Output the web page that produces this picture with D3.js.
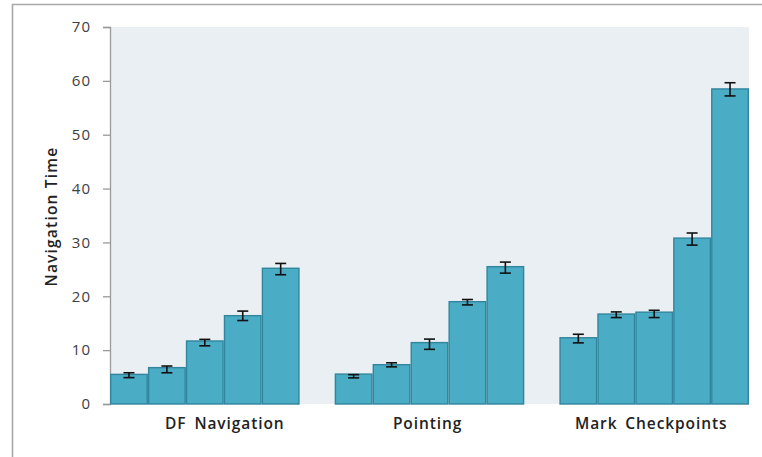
<!DOCTYPE html>
<html>
<head>
<meta charset="utf-8">
<script src="https://cdn.jsdelivr.net/npm/d3@7"></script>
<style>
  html, body { margin: 0; padding: 0; background: #fff; }
  svg { display: block; }
</style>
</head>
<body>
<svg id="chart" width="762" height="457"></svg>
<script>
// ---- data ----
const categories = ["DF Navigation", "Pointing", "Mark Checkpoints"];
const dfNavigation    = [5.5, 6.75, 11.7, 16.4, 25.2];
const pointing        = [5.55, 7.3, 11.4, 19.0, 25.5];
const markCheckpoints = [12.3, 16.7, 17.05, 30.8, 58.5];
const dfNavErrLow     = [4.9, 5.8, 10.8, 15.5, 24.0];
const dfNavErrHigh    = [5.8, 7.05, 12.0, 17.25, 26.1];
const pointErrLow     = [4.85, 6.9, 10.15, 18.4, 24.3];
const pointErrHigh    = [5.45, 7.65, 12.05, 19.4, 26.35];
const markErrLow      = [11.35, 16.05, 16.05, 29.5, 57.2];
const markErrHigh     = [12.95, 17.1, 17.4, 31.75, 59.65];
const yTicks = [0, 10, 20, 30, 40, 50, 60, 70];
const yTitle = "Navigation Time";

const seriesValues = [dfNavigation, pointing, markCheckpoints];
const seriesLow = [dfNavErrLow, pointErrLow, markErrLow];
const seriesHigh = [dfNavErrHigh, pointErrHigh, markErrHigh];

// ---- layout ----
const svg = d3.select("#chart");
const plot = { left: 110, right: 749, top: 27, bottom: 404 };
const font = "'Open Sans', Lato, sans-serif";

// outer frame (left + top lines)
svg.append("path")
  .attr("d", "M12.5,457 L12.5,4.5 L762,4.5")
  .attr("fill", "none").attr("stroke", "#a8a8a8").attr("stroke-width", 1.6);

// plot background
svg.append("rect")
  .attr("x", plot.left).attr("y", plot.top)
  .attr("width", plot.right - plot.left).attr("height", plot.bottom - plot.top)
  .attr("fill", "#e9eff3");

const x = d3.scaleBand().domain(categories)
  .range([plot.left, plot.right]).paddingInner(0.156).paddingOuter(0);
const xSub = d3.scaleBand().domain(d3.range(5))
  .range([0, x.bandwidth()]).padding(0);
const y = d3.scaleLinear().domain([0, 70]).range([plot.bottom, plot.top]);

// y axis
const yAxis = d3.axisLeft(y).tickValues(yTicks).tickSize(7).tickPadding(12);
const ga = svg.append("g").attr("transform", `translate(${plot.left},0)`).call(yAxis);
ga.select(".domain").attr("stroke", "#9a9a9a").attr("stroke-width", 1.3);
ga.selectAll(".tick line").attr("stroke", "#9a9a9a").attr("stroke-width", 1.3);
ga.selectAll(".tick text")
  .attr("font-family", font).attr("font-size", 15).attr("fill", "#404040")
  .attr("letter-spacing", "1px");

// y title
svg.append("text")
  .attr("transform", `translate(57,${(plot.top + plot.bottom) / 2 + 1}) rotate(-90)`)
  .attr("text-anchor", "middle")
  .attr("font-family", font).attr("font-size", 15.5).attr("font-weight", 600)
  .attr("letter-spacing", "1.2px")
  .attr("fill", "#222")
  .text(yTitle);

// bars
const groups = svg.selectAll("g.grp").data(categories).join("g")
  .attr("class", "grp")
  .attr("transform", d => `translate(${x(d)},0)`);

groups.each(function (cat, gi) {
  const g = d3.select(this);
  const vals = seriesValues[gi];
  g.selectAll("rect").data(vals).join("rect")
    .attr("x", (d, i) => xSub(i) + 0.7)
    .attr("y", d => y(d))
    .attr("width", xSub.bandwidth() - 1.4)
    .attr("height", d => y(0) - y(d))
    .attr("fill", "#4bacc6")
    .attr("stroke", "#31859c")
    .attr("stroke-width", 1.4);

  const lo = seriesLow[gi], hi = seriesHigh[gi];
  const eb = g.selectAll("g.eb").data(vals.map((v, i) => i)).join("g").attr("class", "eb");
  const cx = i => xSub(i) + xSub.bandwidth() / 2;
  eb.append("line")
    .attr("x1", cx).attr("x2", cx)
    .attr("y1", i => y(hi[i])).attr("y2", i => y(lo[i]))
    .attr("stroke", "#111").attr("stroke-width", 1.6);
  eb.append("line")
    .attr("x1", i => cx(i) - 5.5).attr("x2", i => cx(i) + 5.5)
    .attr("y1", i => y(hi[i])).attr("y2", i => y(hi[i]))
    .attr("stroke", "#111").attr("stroke-width", 1.6);
  eb.append("line")
    .attr("x1", i => cx(i) - 5.5).attr("x2", i => cx(i) + 5.5)
    .attr("y1", i => y(lo[i])).attr("y2", i => y(lo[i]))
    .attr("stroke", "#111").attr("stroke-width", 1.6);
});

// category labels
const labelShift = [20, -2, -3];
svg.selectAll("text.cat").data(categories).join("text")
  .attr("class", "cat")
  .attr("x", (d, i) => x(d) + x.bandwidth() / 2 + labelShift[i])
  .attr("y", 429)
  .attr("text-anchor", "middle")
  .attr("font-family", font).attr("font-size", 15.5).attr("font-weight", 600)
  .attr("letter-spacing", "0.9px").attr("word-spacing", "3px")
  .attr("fill", "#222")
  .text(d => d);
</script>
</body>
</html>
